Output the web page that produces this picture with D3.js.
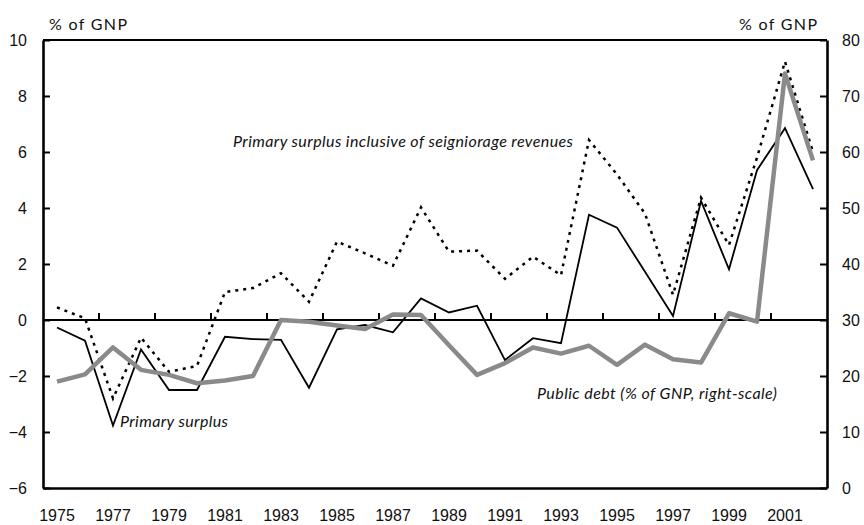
<!DOCTYPE html>
<html>
<head>
<meta charset="utf-8">
<script src="https://cdn.jsdelivr.net/npm/d3@7"></script>
<style>
  html, body { margin: 0; padding: 0; background: #fff; }
  svg { display: block; font-family: Lato, "Open Sans", sans-serif; }
</style>
</head>
<body>
<svg id="chart" width="864" height="525"></svg>
<script>
// ---- data ----
const years = d3.range(1975, 2003);
const primarySurplus = [-0.27, -0.74, -3.77, -1.05, -2.5, -2.5, -0.6, -0.68, -0.71, -2.42,
  -0.33, -0.18, -0.44, 0.77, 0.27, 0.51, -1.43, -0.65, -0.83, 3.76,
  3.3, 1.72, 0.14, 4.25, 1.81, 5.35, 6.85, 4.67];
const surplusWithSeigniorage = [0.45, 0.06, -2.8, -0.63, -1.85, -1.64, 1.0, 1.14, 1.67, 0.65,
  2.8, 2.38, 1.94, 4.02, 2.44, 2.48, 1.47, 2.26, 1.6, 6.43,
  5.2, 3.8, 0.9, 4.37, 2.68, 5.8, 9.23, 6.0];
const publicDebt = [19.0, 20.3, 25.1, 21.1, 20.2, 18.7, 19.2, 20.0, 30.0, 29.7,
  29.0, 28.4, 31.0, 30.9, 25.5, 20.2, 22.3, 25.1, 24.0, 25.4,
  22.0, 25.6, 23.0, 22.4, 31.2, 29.7, 74.0, 58.5];
const leftTicks = [-6, -4, -2, 0, 2, 4, 6, 8, 10];
const rightTicks = [0, 10, 20, 30, 40, 50, 60, 70, 80];
const yearLabels = d3.range(1975, 2003, 2);
const axisTitle = "% of GNP";
const labelPrimary = "Primary surplus";
const labelSeign = "Primary surplus inclusive of seigniorage revenues";
const labelDebt = "Public debt (% of GNP, right-scale)";

// ---- layout ----
const W = 864, H = 525;
const m = { left: 43, right: 37, top: 40, bottom: 37 };
const x0 = m.left, x1 = W - m.right, y0 = m.top, y1 = H - m.bottom;

const svg = d3.select("#chart");

const x = d3.scaleBand().domain(years).range([x0, x1]).paddingInner(0).paddingOuter(0);
const cx = d => x(d) + x.bandwidth() / 2;
const yL = d3.scaleLinear().domain([-6, 10]).range([y1, y0]);
const yR = d3.scaleLinear().domain([0, 80]).range([y1, y0]);

// top border
svg.append("line").attr("x1", x0).attr("x2", x1).attr("y1", y0).attr("y2", y0)
  .attr("stroke", "#000").attr("stroke-width", 2);

// left axis
const gL = svg.append("g").attr("transform", `translate(${x0},0)`)
  .call(d3.axisLeft(yL).tickValues(leftTicks).tickSizeInner(-7).tickSizeOuter(0).tickPadding(16).tickFormat(d3.format("d")));
gL.select(".domain").attr("stroke-width", 2.6);
gL.selectAll(".tick line").attr("stroke-width", 2);
gL.selectAll("text").attr("font-size", 16).attr("fill", "#111");

// right axis
const gR = svg.append("g").attr("transform", `translate(${x1},0)`)
  .call(d3.axisRight(yR).tickValues(rightTicks).tickSizeInner(-7).tickSizeOuter(0).tickPadding(15).tickFormat(d3.format("d")));
gR.select(".domain").attr("stroke-width", 2.6);
gR.selectAll(".tick line").attr("stroke-width", 2);
gR.selectAll("text").attr("font-size", 16).attr("fill", "#111");

// bottom axis (labels)
const gB = svg.append("g").attr("transform", `translate(0,${y1})`)
  .call(d3.axisBottom(x).tickValues(yearLabels).tickSize(0).tickPadding(22).tickSizeOuter(0));
gB.select(".domain").attr("stroke-width", 2.6);
gB.selectAll("text").attr("font-size", 16).attr("fill", "#111");

// zero line with tick marks at band boundaries
const gZ = svg.append("g").attr("transform", `translate(${-x.bandwidth() / 2},${yL(0)})`)
  .call(d3.axisTop(x).tickValues(d3.range(1977, 2003, 2)).tickSizeInner(7).tickSizeOuter(0).tickFormat(""));
gZ.select(".domain").remove();
gZ.selectAll(".tick line").attr("stroke-width", 2);
svg.append("line").attr("x1", x0).attr("x2", x1).attr("y1", yL(0)).attr("y2", yL(0))
  .attr("stroke", "#000").attr("stroke-width", 2);

// axis titles
svg.append("text").attr("x", 49).attr("y", 30).attr("font-size", 16).attr("fill", "#111")
  .attr("textLength", 78).attr("lengthAdjust", "spacing").text(axisTitle);
svg.append("text").attr("x", 739).attr("y", 30).attr("font-size", 16).attr("fill", "#111")
  .attr("textLength", 78).attr("lengthAdjust", "spacing").text(axisTitle);

// lines
const lineL = d3.line().x((d, i) => cx(years[i])).y(d => yL(d));
const lineR = d3.line().x((d, i) => cx(years[i])).y(d => yR(d));

svg.append("path").datum(surplusWithSeigniorage).attr("d", lineL)
  .attr("fill", "none").attr("stroke", "#000").attr("stroke-width", 2.5)
  .attr("stroke-dasharray", "3,5");
svg.append("path").datum(primarySurplus).attr("d", lineL)
  .attr("fill", "none").attr("stroke", "#000").attr("stroke-width", 1.8)
  .attr("stroke-linejoin", "miter");
svg.append("path").datum(publicDebt).attr("d", lineR)
  .attr("fill", "none").attr("stroke", "#8a8a8a").attr("stroke-width", 4.5)
  .attr("stroke-linejoin", "round");

// annotations
function note(xp, yp, w, t) {
  svg.append("text").attr("x", xp).attr("y", yp).attr("font-size", 16).attr("font-style", "italic")
    .attr("fill", "#111").attr("textLength", w).attr("lengthAdjust", "spacing").text(t);
}
note(233, 147, 340, labelSeign);
note(120, 427, 108, labelPrimary);
note(537, 399, 240, labelDebt);
</script>
</body>
</html>
